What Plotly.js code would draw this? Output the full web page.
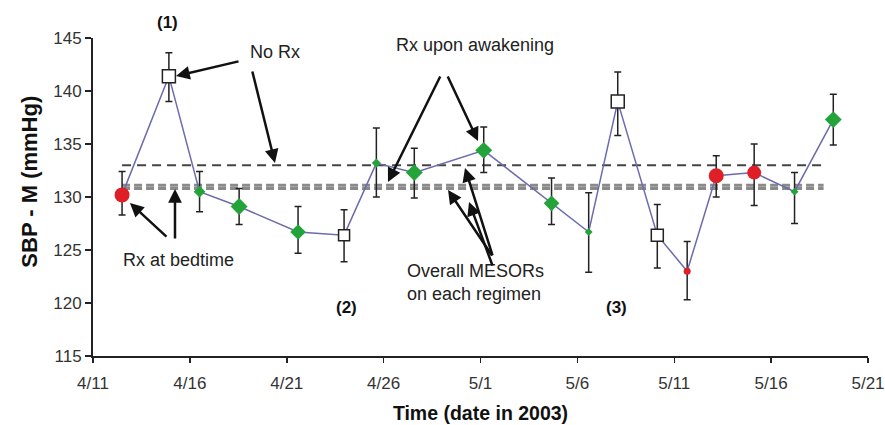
<!DOCTYPE html>
<html>
<head>
<meta charset="utf-8">
<script src="https://cdn.plot.ly/plotly-3.0.1.min.js"></script>
<style>html,body{margin:0;padding:0;background:#fff;}#chart{width:885px;height:425px;}</style>
</head>
<body>
<div id="chart"></div>
<script>
// ---- data ----
const dates = ['2003-04-12 12:00','2003-04-14 22:00','2003-04-16 12:00','2003-04-18 13:00','2003-04-21 14:00','2003-04-23 23:00',
  '2003-04-25 15:00','2003-04-27 14:00','2003-05-01 04:00','2003-05-04 16:00','2003-05-06 14:00','2003-05-08 02:00',
  '2003-05-10 03:00','2003-05-11 16:00','2003-05-13 04:00','2003-05-15 03:00','2003-05-17 05:00','2003-05-19 05:00'];
const sbp   = [130.2,141.4,130.5,129.1,126.7,126.4,133.2,132.3,134.4,129.4,126.7,139.0,126.4,123.0,132.0,132.3,130.5,137.3];
const upper = [132.4,143.6,132.4,130.8,129.1,128.8,136.5,134.6,136.6,131.8,130.4,141.8,129.3,125.8,133.9,135.0,132.3,139.7];
const lower = [128.3,139.0,128.6,127.4,124.7,123.9,130.0,129.9,132.3,127.4,122.9,135.8,123.3,120.3,130.0,129.2,127.5,134.9];
const regimen = ['bedtime','noRx','awake','awake','awake','noRx','awake','awake','awake','awake','awake','noRx',
  'noRx','bedtime','bedtime','bedtime','awake','awake'];
const mesorNames  = ['noRx','awake','bedtime'];
const mesorLevels = [133.0, 131.1, 130.8];
const mesorStart = '2003-04-12 12:00', mesorEnd = '2003-05-18 17:00';
const xTickDates = ['2003-04-11','2003-04-16','2003-04-21','2003-04-26','2003-05-01','2003-05-06','2003-05-11','2003-05-16','2003-05-21'];
const xTickText  = ['4/11','4/16','4/21','4/26','5/1','5/6','5/11','5/16','5/21'];
const yTicks = [115,120,125,130,135,140,145];

// ---- styles ----
const style = {
  bedtime: {symbol:'circle', color:'#df1f26', line:'#df1f26', lw:0},
  noRx:    {symbol:'square', color:'#ffffff', line:'#222222', lw:1.5},
  awake:   {symbol:'diamond', color:'#24a33a', line:'#24a33a', lw:0}
};
const markerSize = [15,13,9,13,12,11,7,13,13,12,6,13,12,7,15,14,6,13];
const FONT = 'Liberation Sans, Arial, sans-serif';

const traces = [{
  x: dates, y: sbp, type: 'scatter', mode: 'lines+markers', cliponaxis: false,
  line: {color: '#6b6bad', width: 1.5},
  marker: {
    opacity: 1,
    symbol: regimen.map(r => style[r].symbol),
    color: regimen.map(r => style[r].color),
    size: markerSize,
    line: {color: regimen.map(r => style[r].line), width: regimen.map(r => style[r].lw)}
  },
  error_y: {type: 'data', symmetric: false,
    array: upper.map((u, i) => +(u - sbp[i]).toFixed(2)),
    arrayminus: lower.map((l, i) => +(sbp[i] - l).toFixed(2)),
    color: '#222', thickness: 1.5, width: 3.5},
  hoverinfo: 'x+y', showlegend: false
}];

const shapes = mesorLevels.map((lv, i) => ({
  type: 'line', xref: 'x', yref: 'y', x0: mesorStart, x1: mesorEnd, y0: lv, y1: lv, layer: 'below',
  line: i === 0 ? {color: '#444', width: 2, dash: '9px,6px'} : {color: '#8a8a8a', width: 3, dash: '8px,4px'}
}));
// bracket under group (3)
shapes.push({type:'path', xref:'x', yref:'y', layer:'below',
  path: 'M 2003-05-06 10:00,123.1 L 2003-05-06 10:00,122.9 L 2003-05-10 07:00,122.9 L 2003-05-10 07:00,123.1',
  line:{color:'#444', width:2}});

const arrow = (x, y, ax, ay) => ({xref:'paper', yref:'paper', x, y, ax, ay, text:'', showarrow:true,
  arrowhead:2, arrowsize:1.1, arrowwidth:2.5, arrowcolor:'#111'});
const label = (x, y, text, opts) => Object.assign({xref:'paper', yref:'paper', x, y, text, showarrow:false,
  xanchor:'center', yanchor:'middle', font:{family:FONT, size:18, color:'#222'}}, opts || {});
const boldFont = {family:FONT, size:17, color:'#111'};

const annotations = [
  label(0.0955, 1.050, '<b>(1)</b>', {font:boldFont}),
  label(0.3265, 0.151, '<b>(2)</b>', {font:boldFont}),
  label(0.6761, 0.151, '<b>(3)</b>', {font:boldFont}),
  label(0.200, 0.956, 'No Rx', {xanchor:'left'}),
  label(0.4929, 0.978, 'Rx upon awakening'),
  label(0.1097, 0.302, 'Rx at bedtime'),
  label(0.4026, 0.2296, 'Overall MESORs<br>on each regimen', {xanchor:'left', align:'left'}),
  arrow(0.1071, 0.8805, 64, -15),
  arrow(0.2348, 0.6069, -23, -93),
  arrow(0.3806, 0.5472, 53, -107),
  arrow(0.4968, 0.6761, -31, -66),
  arrow(0.0477, 0.4811, 38, 35),
  arrow(0.1058, 0.5252, 0, 51),
  arrow(0.4581, 0.5220, 45, 67),
  arrow(0.4800, 0.5912, 28, 89),
  arrow(0.4852, 0.4843, 24, 65)
];

const layout = {
  width: 885, height: 425,
  margin: {l: 93, r: 17, t: 38, b: 69},
  paper_bgcolor: '#fff', plot_bgcolor: '#fff',
  font: {family: FONT, size: 17, color: '#222'},
  xaxis: {type: 'date', range: ['2003-04-11', '2003-05-21'], tickvals: xTickDates, ticktext: xTickText,
    showline: true, linecolor: '#222', linewidth: 2, ticks: 'outside', ticklen: 5, tickwidth: 1.5, tickcolor: '#222',
    ticklabelstandoff: 6,
    showgrid: false, zeroline: false, tickfont: {family: FONT, size: 17, color: '#333'},
    title: {text: '<b>Time (date in 2003)</b>', font: {family: FONT, size: 19.5, color: '#111'}, standoff: 14}},
  yaxis: {range: [115, 145], tickvals: yTicks, showline: true, linecolor: '#222', linewidth: 2,
    ticks: 'outside', ticklen: 6, tickwidth: 1.5, tickcolor: '#222', showgrid: false, zeroline: false,
    tickfont: {family: FONT, size: 17, color: '#333'},
    title: {text: '<b>&nbsp;&nbsp;&nbsp;&nbsp;&nbsp;SBP - M (mmHg)</b>', font: {family: FONT, size: 22, color: '#111'}, standoff: 10}},
  shapes, annotations, showlegend: false
};

Plotly.newPlot('chart', traces, layout, {staticPlot: true, displayModeBar: false});
</script>
</body>
</html>
